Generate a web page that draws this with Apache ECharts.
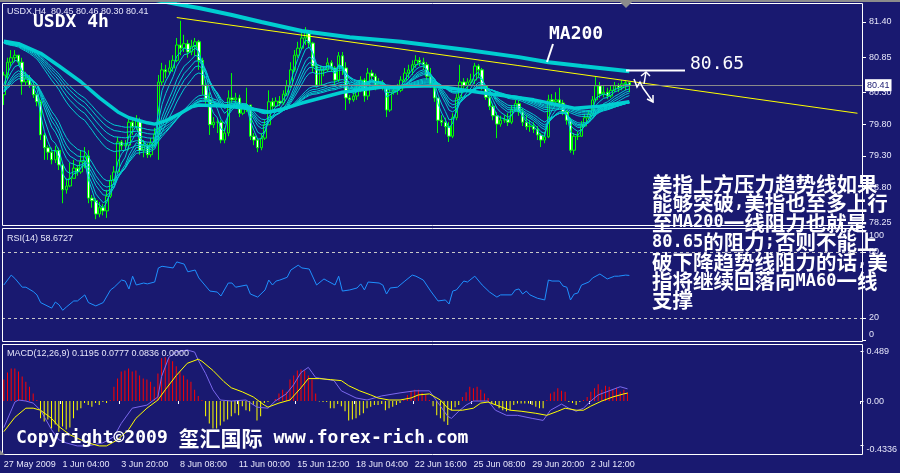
<!DOCTYPE html>
<html><head><meta charset="utf-8">
<script src="https://cdn.jsdelivr.net/npm/echarts@6/dist/echarts.min.js"></script>
<style>html,body{margin:0;padding:0;background:#191970;overflow:hidden}#c{width:900px;height:473px}</style>
</head><body><div id="c"></div>
<script>
// ---------- data ----------
const tickLabels = ['27 May 2009','1 Jun 04:00','3 Jun 20:00','8 Jun 08:00','11 Jun 00:00','15 Jun 12:00','18 Jun 04:00','22 Jun 16:00','25 Jun 08:00','29 Jun 20:00','2 Jul 12:00'];
const tickStep = 16;          // bars between time labels
const slotCount = 234;        // bar slots across the chart (incl. right shift)
const firstOpen = 80.26;
const closes = [
80.57,80.77,80.84,80.88,80.77,80.46,80.52,80.41,80.26,80.15,
79.63,79.43,79.36,79.24,79.39,79.16,78.77,78.83,78.95,79.11,
79.05,79.21,79.30,78.64,78.60,78.39,78.49,78.44,78.67,78.92,
79.05,79.52,79.46,79.47,79.83,79.76,79.85,79.39,79.46,79.32,
79.50,79.64,80.46,80.65,80.62,80.68,80.80,81.04,80.99,81.06,
80.93,81.02,81.09,80.80,80.41,80.18,79.79,79.83,79.83,79.55,
79.66,80.21,80.18,80.21,79.97,80.05,80.10,79.61,79.55,79.43,
79.58,79.79,80.15,80.08,80.16,80.13,80.27,80.40,80.65,80.88,
80.99,81.15,81.24,81.07,80.71,80.41,80.65,80.65,80.76,80.68,
80.49,80.87,80.68,80.21,80.18,80.24,80.33,80.49,80.24,80.60,
80.55,80.41,80.44,80.40,80.02,80.30,80.33,80.33,80.49,80.60,
80.65,80.73,80.80,80.77,80.73,80.55,80.43,80.21,79.86,79.83,
79.76,79.61,79.90,80.21,80.46,80.40,80.46,80.49,80.71,80.65,
80.40,80.22,80.08,79.93,79.80,79.86,79.87,79.83,80.02,80.12,
79.99,79.83,79.76,79.77,79.72,79.63,79.55,79.60,80.18,80.15,
80.18,80.13,79.99,79.86,79.39,79.61,79.61,79.77,79.90,79.96,
80.18,80.40,80.27,80.30,80.24,80.33,80.40,80.37,80.43,80.45,80.41];
const highs = [
80.62,80.84,80.96,80.96,80.88,80.84,80.62,80.57,80.46,80.26,
80.18,79.66,79.47,79.43,79.46,79.43,79.19,78.95,79.19,79.24,
79.16,79.39,79.44,79.39,78.69,78.64,78.58,78.55,78.77,79.00,
79.14,79.60,79.55,79.55,79.90,79.90,79.94,79.90,79.55,79.50,
79.58,79.74,80.57,80.76,80.73,80.80,80.88,81.15,81.42,81.20,
81.12,81.12,81.15,81.12,80.84,80.49,80.30,79.91,79.90,79.86,
79.74,80.33,80.60,80.29,80.26,80.13,80.37,80.10,79.66,79.58,
79.66,79.86,80.33,80.21,80.22,80.24,80.33,80.49,80.77,80.96,
81.09,81.27,81.32,81.27,81.09,80.73,80.71,80.71,80.84,80.80,
80.71,80.93,80.93,80.77,80.26,80.30,80.40,80.55,80.52,80.68,
80.65,80.59,80.52,80.49,80.41,80.37,80.40,80.43,80.55,80.68,
80.73,80.80,80.88,80.85,80.84,80.77,80.68,80.46,80.21,79.94,
79.90,79.83,79.97,80.27,80.73,80.52,80.52,80.59,80.76,80.74,
80.68,80.41,80.26,80.12,79.99,79.93,79.94,79.97,80.10,80.18,
80.18,80.05,79.94,79.86,79.83,79.77,79.66,79.68,80.26,80.27,
80.30,80.37,80.18,80.02,79.90,79.66,79.68,79.85,79.96,80.02,
80.24,80.55,80.46,80.40,80.37,80.40,80.46,80.44,80.49,80.49,80.46];
const lows = [
80.10,80.49,80.71,80.77,80.71,80.26,80.40,80.37,80.21,80.08,
79.55,79.24,79.24,79.17,79.19,79.08,78.56,78.71,78.81,78.95,
78.99,79.02,79.11,78.56,78.49,78.31,78.34,78.37,78.33,78.64,
78.89,79.02,79.39,79.39,79.39,79.63,79.71,79.32,79.28,79.27,
79.28,79.44,79.24,80.41,80.52,80.57,80.62,80.77,80.88,80.93,
80.84,80.88,80.87,80.65,80.26,80.12,79.63,79.74,79.66,79.50,
79.50,79.61,80.13,80.13,79.91,79.94,79.99,79.55,79.47,79.36,
79.39,79.55,79.79,80.02,80.07,80.08,80.10,80.24,80.37,80.62,
80.84,80.96,81.04,80.99,80.62,80.37,80.40,80.55,80.62,80.62,
80.41,80.46,80.57,80.02,80.12,80.15,80.18,80.30,80.15,80.18,
80.49,80.33,80.37,80.33,79.91,79.99,80.26,80.26,80.30,80.46,
80.52,80.57,80.68,80.71,80.65,80.49,80.37,80.15,79.66,79.77,
79.64,79.52,79.58,79.86,80.18,80.30,80.33,80.40,80.43,80.52,
80.33,80.18,80.02,79.86,79.58,79.76,79.82,79.77,79.80,79.99,
79.93,79.77,79.71,79.68,79.66,79.55,79.44,79.50,79.58,80.08,
80.10,80.05,79.94,79.79,79.35,79.32,79.55,79.60,79.76,79.86,
79.93,80.15,80.21,80.22,80.19,80.21,80.30,80.30,80.33,80.33,80.30];
const ma60 = [[0,81.10],[4,81.06],[10,80.91],[15,80.71],[21,80.46],[26,80.21],[31,79.99],[34,79.90],[39,79.82],[41,79.80],[44,79.85],[48,79.97],[51,80.07],[53,80.10],[61,80.08],[67,80.04],[72,79.99],[76,80.04],[81,80.13],[92,80.30],[103,80.38],[117,80.40],[129,80.30],[144,80.18],[155,80.05],[162,80.08],[170,80.15]];
const ma200 = [[40,81.76],[47,81.68],[53,81.62],[62,81.51],[70,81.40],[81,81.26],[94,81.16],[108,81.09],[126,80.96],[140,80.85],[148,80.77],[157,80.71],[170,80.63]];
const trendline = [[47,81.47],[232,79.97]];
const emaPeriods = [3,5,8,10,12,15,30,35,40,45,50];
const rsi = [[0,50],[2,59],[3,56],[5,48],[6,48],[8,44],[9,41],[10,34],[13,29],[14,34.5],[15,32],[16,27],[17,30],[19,35.5],[20,35.5],[22,41],[23,34],[25,31],[27,34],[29,45.5],[30,48],[32,54.5],[33,53.6],[34,46.4],[35,58],[36,50],[38,51.8],[39,51],[41,52.7],[42,65.5],[43,67],[46,65.5],[47,71],[49,69],[50,62],[52,63.6],[53,56.4],[56,44.5],[58,43.6],[59,40],[61,51.8],[62,51.8],[63,48],[66,50],[67,41.8],[69,39],[71,45.5],[72,54.5],[73,50],[74,53.6],[75,54.5],[77,57],[78,63.6],[80,68],[81,65.5],[83,64.5],[85,50],[87,55.5],[88,53.6],[90,50],[91,58],[92,44.5],[94,45.5],[96,47.3],[97,51],[98,45.5],[99,52.7],[102,51.8],[103,50],[104,41.8],[105,47.3],[107,48],[109,53.6],[111,59],[112,58],[114,54.5],[116,44.5],[118,35.5],[120,36.4],[121,32.7],[122,44.5],[123,45.5],[125,53.6],[126,52.7],[128,58],[130,50],[132,43.6],[134,39],[135,41],[138,41],[139,45.5],[140,46.4],[141,41.8],[142,44.5],[143,41],[145,38],[147,36.4],[148,54.5],[149,53.6],[151,53.6],[152,49],[153,48],[154,36.4],[155,41.8],[156,42.7],[157,50],[159,52.7],[160,56.4],[162,60],[164,55.5],[166,58],[167,58],[169,59],[170,58.7]];
const macdMain = [[0,-0.26],[3,-0.01],[4,0.01],[6,0.0],[8,-0.02],[10,-0.09],[13,-0.28],[15,-0.38],[17,-0.41],[20,-0.44],[23,-0.44],[27,-0.41],[30,-0.35],[32,-0.22],[35,-0.07],[39,-0.04],[42,0.04],[43,0.24],[45,0.43],[47,0.48],[50,0.50],[52,0.48],[53,0.40],[55,0.27],[57,0.11],[59,0.01],[62,0.0],[66,0.01],[69,-0.06],[72,-0.07],[74,0.0],[77,0.07],[79,0.16],[81,0.28],[83,0.33],[84,0.28],[85,0.23],[90,0.20],[92,0.10],[96,0.03],[99,0.01],[103,0.05],[108,0.08],[112,0.10],[116,0.10],[118,0.0],[121,-0.15],[122,-0.17],[124,-0.10],[126,-0.04],[128,0.0],[132,0.0],[134,-0.09],[137,-0.14],[140,-0.14],[144,-0.17],[147,-0.19],[149,-0.09],[152,-0.03],[154,-0.07],[156,-0.10],[158,-0.07],[160,0.0],[162,0.06],[165,0.10],[168,0.14],[170,0.1195]];
const macdSignal = [[0,-0.30],[3,-0.16],[6,-0.07],[8,-0.07],[10,-0.09],[13,-0.17],[15,-0.25],[18,-0.33],[21,-0.38],[23,-0.41],[26,-0.44],[28,-0.44],[31,-0.38],[34,-0.28],[36,-0.17],[39,-0.07],[42,0.01],[44,0.11],[47,0.25],[50,0.37],[53,0.41],[54,0.39],[57,0.30],[60,0.19],[62,0.13],[65,0.09],[68,0.04],[71,-0.04],[72,-0.06],[75,-0.02],[78,0.01],[81,0.13],[83,0.22],[86,0.22],[89,0.21],[92,0.20],[94,0.15],[97,0.10],[100,0.06],[102,0.03],[105,0.01],[108,0.01],[111,0.03],[113,0.06],[116,0.07],[119,0.01],[121,-0.07],[122,-0.09],[125,-0.09],[128,-0.07],[130,-0.02],[132,-0.01],[135,-0.05],[138,-0.09],[141,-0.10],[145,-0.12],[148,-0.14],[151,-0.10],[153,-0.07],[156,-0.09],[158,-0.09],[160,-0.05],[163,0.0],[166,0.04],[169,0.07],[170,0.0777]];
const macdHist = [
0.21,0.28,0.32,0.32,0.29,0.24,0.19,0.14,0.075,0.01,
-0.17,-0.20,-0.18,-0.27,-0.23,-0.30,-0.25,-0.28,-0.26,-0.17,
-0.09,-0.07,-0.02,-0.04,-0.055,-0.02,-0.04,-0.01,-0.02,0.01,
0.14,0.22,0.29,0.30,0.32,0.29,0.30,0.25,0.22,0.21,
0.19,0.14,0.27,0.42,0.43,0.42,0.39,0.34,0.29,0.25,
0.21,0.19,0.11,0.05,0.01,-0.15,-0.22,-0.27,-0.27,-0.24,
-0.20,-0.18,-0.15,-0.12,-0.14,-0.05,-0.09,-0.10,-0.04,-0.19,
-0.15,-0.02,-0.01,0.00,0.02,0.075,0.11,0.09,0.21,0.25,
0.30,0.31,0.30,0.25,0.21,0.075,-0.005,-0.01,-0.01,-0.07,
-0.07,-0.03,-0.05,-0.10,-0.19,-0.18,-0.17,-0.14,-0.12,-0.07,
-0.055,-0.04,-0.04,-0.03,-0.09,-0.07,-0.055,-0.04,-0.02,0.01,
0.06,0.10,0.11,0.11,0.08,0.06,0.01,-0.05,-0.14,-0.17,
-0.20,-0.235,-0.09,-0.06,-0.04,0.04,0.085,0.14,0.125,0.14,
0.11,0.075,0.03,-0.02,-0.04,-0.07,-0.09,-0.10,-0.09,-0.04,
-0.025,-0.025,-0.025,-0.025,-0.04,-0.055,-0.07,-0.07,0.01,0.075,
0.09,0.125,0.10,0.09,-0.01,-0.02,-0.04,-0.01,0.01,0.04,
0.09,0.125,0.165,0.11,0.15,0.14,0.11,0.13,0.09,0.11,0.0836];
const priceTicks = [81.40,80.85,80.30,79.80,79.30,78.80,78.25];
const rsiTicks = [100,80,20,0];
const rsiLevels = [80,20];
const macdTicks = [0.489,0,-0.4336];
const lastPrice = 80.41;
const headerText = 'USDX,H4  80.45 80.46 80.30 80.41';
const rsiText = 'RSI(14) 58.6727';
const macdText = 'MACD(12,26,9) 0.1195 0.0777 0.0836 0.0000';
const noteText = '美指上方压力趋势线如果\n能够突破{m|,}美指也至多上行\n至{m|MA200}一线阻力也就是\n{m|80.65}的阻力{m|;}否则不能上\n破下降趋势线阻力的话{m|,}美\n指将继续回落向{m|MA60}一线\n支撑';

// ---------- build ----------
const BG = '#191970', CY = '#00ced1', LBL = '#e6e6fa', WH = '#ffffff';
const categories = Array.from({length: slotCount}, (_, i) => String(i));
const candleData = closes.map((c, i) => [i === 0 ? firstOpen : closes[i - 1], c, lows[i], highs[i]]);
function ema(period, seed) {
  const k = 2 / (period + 1); let prev = seed;
  return closes.map((c, i) => { prev = prev + k * (c - prev); return [i, +prev.toFixed(4)]; });
}
const isTick = (i) => i % tickStep === 0 && i / tickStep < tickLabels.length;
const lbl = {color: LBL, fontSize: 9, fontFamily: 'Liberation Sans'};

const xAxes = [0, 1, 2].map(g => ({
  type: 'category', gridIndex: g, data: categories, boundaryGap: true,
  axisLine: {show: false}, splitLine: {show: false},
  axisTick: g === 2 ? {show: true, interval: (i) => isTick(i), length: 3, lineStyle: {color: WH}} : {show: false},
  axisLabel: g === 2 ? Object.assign({show: true, interval: (i) => isTick(i), align: 'left', margin: 5,
      formatter: (v, i) => tickLabels[i / tickStep] || ''}, lbl) : {show: false}
}));

const yAxes = [
  {type: 'value', gridIndex: 0, position: 'right', min: 78.203, max: 81.698, splitLine: {show: false}, axisLine: {show: false},
   axisTick: {show: true, customValues: priceTicks, length: 3, lineStyle: {color: WH}},
   axisLabel: Object.assign({customValues: priceTicks, margin: 6, formatter: v => v.toFixed(2)}, lbl)},
  {type: 'value', gridIndex: 1, position: 'right', min: -1.8, max: 101.8, splitLine: {show: false}, axisLine: {show: false},
   axisTick: {show: true, customValues: rsiTicks, length: 3, lineStyle: {color: WH}},
   axisLabel: Object.assign({customValues: rsiTicks, margin: 6,
     formatter: v => v === 100 ? '{d|100}' : (v === 0 ? '{u|0}' : String(v)),
     rich: {d: Object.assign({padding: [12, 0, 0, 0]}, lbl), u: Object.assign({padding: [0, 0, 12, 0]}, lbl)}}, lbl)},
  {type: 'value', gridIndex: 2, position: 'right', min: -0.529, max: 0.559, splitLine: {show: false}, axisLine: {show: false},
   axisTick: {show: true, customValues: macdTicks, length: 3, lineStyle: {color: WH}},
   axisLabel: Object.assign({customValues: macdTicks, margin: 6,
     formatter: v => Math.abs(v) < 1e-9 ? '0.00' : (v < 0 ? '{d|' + v + '}' : String(v)),
     rich: {d: Object.assign({padding: [8, 0, 0, 0]}, lbl)}}, lbl)}
];

const series = [];
series.push({
  type: 'candlestick', xAxisIndex: 0, yAxisIndex: 0, data: candleData, barWidth: 3,
  itemStyle: {color: BG, color0: WH, borderColor: '#00ff00', borderColor0: '#00ff00', borderWidth: 1},
  markLine: {silent: true, symbol: 'none', data: [{yAxis: lastPrice}],
    lineStyle: {color: '#8a8a8a', type: 'solid', width: 1},
    label: {position: 'end', formatter: lastPrice.toFixed(2), backgroundColor: WH, color: BG, fontSize: 9,
      fontFamily: 'Liberation Sans', padding: [2, 2, 1, 2], distance: 2}}
});
emaPeriods.forEach(p => series.push({
  type: 'line', xAxisIndex: 0, yAxisIndex: 0, data: ema(p, p >= 30 ? ma60[0][1] : firstOpen),
  showSymbol: false, silent: true, lineStyle: {color: CY, width: 1}
}));
series.push({type: 'line', xAxisIndex: 0, yAxisIndex: 0, data: ma60, showSymbol: false, silent: true, lineStyle: {color: CY, width: 3.5}});
series.push({type: 'line', xAxisIndex: 0, yAxisIndex: 0, data: ma200, showSymbol: false, silent: true, lineStyle: {color: CY, width: 4}});
series.push({type: 'line', xAxisIndex: 0, yAxisIndex: 0, data: trendline, showSymbol: false, silent: true, lineStyle: {color: '#ffff00', width: 1}});
series.push({type: 'line', xAxisIndex: 1, yAxisIndex: 1, data: rsi, showSymbol: false, silent: true, lineStyle: {color: '#1e90ff', width: 1},
  markLine: {silent: true, symbol: 'none', label: {show: false}, data: rsiLevels.map(v => ({yAxis: v})),
    lineStyle: {color: '#c8c8c8', type: [3, 3], width: 1}}});
series.push({type: 'bar', xAxisIndex: 2, yAxisIndex: 2, barWidth: 1, silent: true,
  data: macdHist.map(v => ({value: v, itemStyle: {color: v >= 0 ? '#ff0000' : '#ffff00'}}))});
series.push({type: 'line', xAxisIndex: 2, yAxisIndex: 2, data: macdMain, showSymbol: false, silent: true, lineStyle: {color: '#7b68ee', width: 1}});
series.push({type: 'line', xAxisIndex: 2, yAxisIndex: 2, data: macdSignal, showSymbol: false, silent: true, lineStyle: {color: '#ffff00', width: 1}});

function txt(x, y, text, font, extra) {
  return Object.assign({type: 'text', x: x, y: y, z: 50, silent: true,
    style: Object.assign({text: text, font: font, fill: WH, align: 'left', verticalAlign: 'middle'}, extra || {})}, {});
}
function seg(pts, w) {
  return {type: 'polyline', z: 50, silent: true, shape: {points: pts}, style: {stroke: WH, lineWidth: w, fill: null}};
}
const graphics = [
  {type: 'rect', z: 40, silent: true, shape: {x: 0, y: 0, width: 900, height: 2}, style: {fill: '#8c8c8c'}},
  {type: 'polygon', z: 40, silent: true, shape: {points: [[620, 2], [632, 2], [626, 8]]}, style: {fill: '#8c8c8c'}},
  {type: 'polygon', z: 40, silent: true, shape: {points: [[0, 450], [5, 455], [0, 455]]}, style: {fill: '#8c8c8c'}},
  {type: 'rect', z: 30, silent: true, shape: {x: 2.5, y: 3.5, width: 860, height: 222}, style: {fill: null, stroke: WH, lineWidth: 1}},
  {type: 'rect', z: 30, silent: true, shape: {x: 2.5, y: 228.5, width: 860, height: 113}, style: {fill: null, stroke: WH, lineWidth: 1}},
  {type: 'rect', z: 30, silent: true, shape: {x: 2.5, y: 344.5, width: 860, height: 110}, style: {fill: null, stroke: WH, lineWidth: 1}},
  txt(7, 12, headerText, '9px "Liberation Sans"', {fill: LBL}),
  txt(33, 22, 'USDX 4h', 'bold 18px "DejaVu Sans Mono"'),
  txt(7, 239, rsiText, '9px "Liberation Sans"', {fill: LBL}),
  txt(7, 354, macdText, '9px "Liberation Sans"', {fill: LBL}),
  txt(549, 34, 'MA200', 'bold 18px "DejaVu Sans Mono"'),
  txt(690, 64, '80.65', '18px "DejaVu Sans Mono"'),
  seg([[553, 44], [547, 62]], 2),
  seg([[626, 70.5], [685, 70.5]], 2),
  seg([[644, 84], [646, 72]], 1.5),
  seg([[641, 76], [646, 72], [650, 76]], 1.5),
  seg([[634, 79], [637, 87], [640, 82], [643, 88], [653, 102]], 1.5),
  seg([[647, 99], [653, 102], [653, 95]], 1.5),
  {type: 'text', x: 652, y: 174.5, z: 60, silent: true,
   style: {text: noteText, font: 'bold 20.5px "Noto Sans CJK SC"', fill: WH, lineHeight: 19.4, align: 'left', verticalAlign: 'top',
     rich: {m: {font: 'bold 17px "DejaVu Sans Mono"', fill: WH, lineHeight: 19.4}}}},
  {type: 'text', x: 16, y: 438, z: 60, silent: true,
   style: {text: '{a|Copyright©2009 }{b|玺汇国际}{a| www.forex-rich.com}', fill: WH, align: 'left', verticalAlign: 'middle',
     font: 'bold 18px "DejaVu Sans Mono"',
     rich: {a: {font: 'bold 18px "DejaVu Sans Mono"', fill: WH}, b: {font: 'bold 21px "Noto Sans CJK SC"', fill: WH}}}}
];

const chart = echarts.init(document.getElementById('c'), null, {renderer: 'canvas'});
chart.setOption({
  backgroundColor: BG, animation: false,
  grid: [
    {left: 2, top: 3, width: 861, height: 223, show: false},
    {left: 2, top: 228, width: 861, height: 114, show: false},
    {left: 2, top: 344, width: 861, height: 111, show: false}
  ],
  xAxis: xAxes, yAxis: yAxes, series: series, graphic: graphics
});
</script></body></html>
